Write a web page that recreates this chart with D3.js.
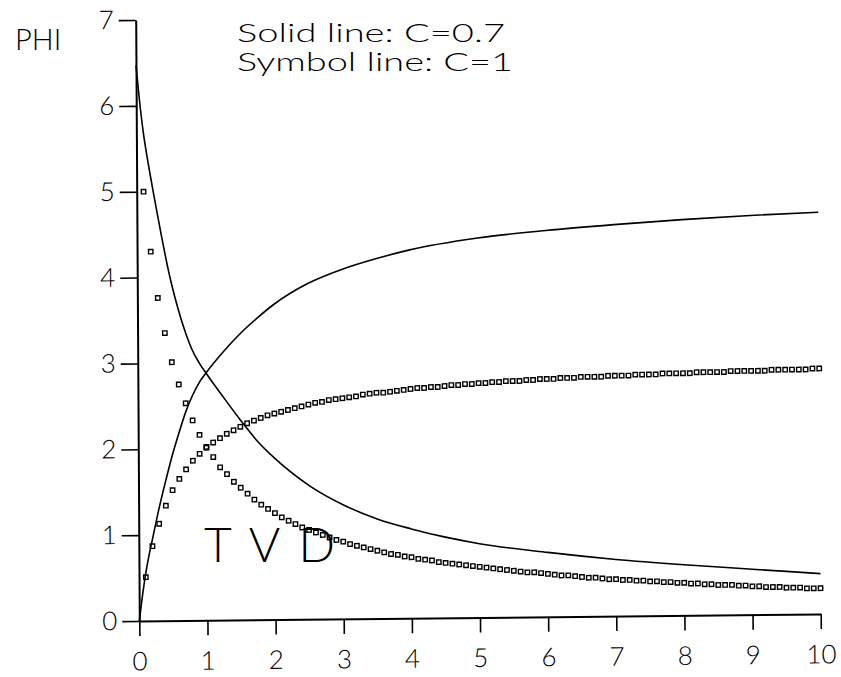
<!DOCTYPE html>
<html>
<head>
<meta charset="utf-8">
<script src="https://cdn.jsdelivr.net/npm/d3@7"></script>
<style>
  html, body { margin: 0; padding: 0; background: #fff; }
  svg { display: block; }
  text { font-family: Lato, "Liberation Sans", Arial, sans-serif; font-weight: 300; fill: #000; }
</style>
</head>
<body>
<svg id="chart" width="841" height="677"></svg>
<script>
// Axis ticks
const xTicks = [0, 1, 2, 3, 4, 5, 6, 7, 8, 9, 10];
const yTicks = [0, 1, 2, 3, 4, 5, 6, 7];

// Solid lines, C = 0.7
const riseR = [0, 0.05, 0.1, 0.15, 0.2, 0.3, 0.4, 0.5, 0.6, 0.7, 0.8, 0.9, 1.0,
  1.25, 1.5, 1.75, 2.0, 2.5, 3.0, 3.5, 4.0, 5.0, 6.0, 7.0, 8.0, 9.0, 10.0];
const riseC07 = [0, 0.30, 0.56, 0.77, 0.95, 1.31, 1.63, 1.93, 2.19, 2.43, 2.62, 2.77, 2.88,
  3.12, 3.33, 3.51, 3.67, 3.91, 4.07, 4.19, 4.29, 4.42, 4.50, 4.56, 4.61, 4.65, 4.68];

const fallR = [0, 0.05, 0.1, 0.15, 0.2, 0.25, 0.3, 0.35, 0.4, 0.45, 0.5, 0.6, 0.7, 0.8, 0.9, 1.0,
  1.25, 1.5, 1.75, 2.0, 2.5, 3.0, 3.5, 4.0, 4.5, 5.0, 6.0, 7.0, 8.0, 9.0, 10.0];
const fallC07 = [6.47, 6.05, 5.70, 5.43, 5.19, 4.96, 4.74, 4.52, 4.31, 4.11, 3.93, 3.62, 3.36, 3.15, 3.00, 2.88,
  2.60, 2.33, 2.08, 1.88, 1.56, 1.33, 1.16, 1.04, 0.94, 0.86, 0.75, 0.66, 0.59, 0.53, 0.47];

// Symbol lines, C = 1
const symR = [
  0.1, 0.2, 0.3, 0.4, 0.5, 0.6, 0.7, 0.8, 0.9, 1.0,
  1.1, 1.2, 1.3, 1.4, 1.5, 1.6, 1.7, 1.8, 1.9, 2.0,
  2.1, 2.2, 2.3, 2.4, 2.5, 2.6, 2.7, 2.8, 2.9, 3.0,
  3.1, 3.2, 3.3, 3.4, 3.5, 3.6, 3.7, 3.8, 3.9, 4.0,
  4.1, 4.2, 4.3, 4.4, 4.5, 4.6, 4.7, 4.8, 4.9, 5.0,
  5.1, 5.2, 5.3, 5.4, 5.5, 5.6, 5.7, 5.8, 5.9, 6.0,
  6.1, 6.2, 6.3, 6.4, 6.5, 6.6, 6.7, 6.8, 6.9, 7.0,
  7.1, 7.2, 7.3, 7.4, 7.5, 7.6, 7.7, 7.8, 7.9, 8.0,
  8.1, 8.2, 8.3, 8.4, 8.5, 8.6, 8.7, 8.8, 8.9, 9.0,
  9.1, 9.2, 9.3, 9.4, 9.5, 9.6, 9.7, 9.8, 9.9, 10.0];
const riseC1 = [
  0.51, 0.87, 1.13, 1.34, 1.52, 1.65, 1.76, 1.86, 1.94, 2.01,
  2.07, 2.12, 2.17, 2.21, 2.25, 2.29, 2.32, 2.35, 2.38, 2.40,
  2.42, 2.44, 2.46, 2.48, 2.50, 2.52, 2.53, 2.55, 2.56, 2.57,
  2.58, 2.59, 2.61, 2.62, 2.63, 2.63, 2.64, 2.65, 2.66, 2.67,
  2.68, 2.68, 2.69, 2.69, 2.70, 2.71, 2.71, 2.72, 2.72, 2.73,
  2.73, 2.74, 2.74, 2.75, 2.75, 2.75, 2.76, 2.76, 2.77, 2.77,
  2.77, 2.78, 2.78, 2.78, 2.79, 2.79, 2.79, 2.79, 2.80, 2.80,
  2.80, 2.80, 2.81, 2.81, 2.81, 2.81, 2.82, 2.82, 2.82, 2.82,
  2.82, 2.83, 2.83, 2.83, 2.83, 2.83, 2.84, 2.84, 2.84, 2.84,
  2.84, 2.84, 2.85, 2.85, 2.85, 2.85, 2.85, 2.85, 2.86, 2.86];
const fallC1 = [
  5.00, 4.30, 3.76, 3.35, 3.01, 2.75, 2.53, 2.33, 2.16, 2.02,
  1.90, 1.78, 1.70, 1.61, 1.54, 1.47, 1.40, 1.34, 1.29, 1.24,
  1.19, 1.15, 1.11, 1.07, 1.04, 1.01, 0.98, 0.95, 0.92, 0.90,
  0.87, 0.85, 0.83, 0.81, 0.79, 0.77, 0.75, 0.74, 0.72, 0.71,
  0.69, 0.68, 0.67, 0.65, 0.64, 0.63, 0.62, 0.61, 0.60, 0.59,
  0.58, 0.57, 0.56, 0.55, 0.54, 0.53, 0.52, 0.52, 0.51, 0.50,
  0.49, 0.48, 0.48, 0.47, 0.46, 0.45, 0.45, 0.44, 0.43, 0.43,
  0.42, 0.42, 0.41, 0.41, 0.40, 0.40, 0.39, 0.39, 0.38, 0.38,
  0.37, 0.37, 0.36, 0.36, 0.35, 0.35, 0.35, 0.34, 0.34, 0.33,
  0.33, 0.32, 0.32, 0.32, 0.31, 0.31, 0.31, 0.30, 0.30, 0.30];

const svg = d3.select("#chart");
const W = 681.4, H = 601;

const x = d3.scaleLinear().domain([0, 10]).range([0, W]);
const y = d3.scaleLinear().domain([0, 7]).range([0, -H]);

// Plot frame, origin at the lower-left corner of the axes (slightly skewed)
const plot = svg.append("g")
  .attr("transform", "matrix(1,-0.01027,0.006,1,139.3,621)");

const xAxis = plot.append("g")
  .call(d3.axisBottom(x).tickValues(xTicks).tickFormat(d3.format("d"))
    .tickSize(15).tickSizeOuter(0).tickPadding(16));
const yAxis = plot.append("g")
  .call(d3.axisLeft(y).tickValues(yTicks).tickFormat(d3.format("d"))
    .tickSize(17).tickSizeOuter(0).tickPadding(5));

[xAxis, yAxis].forEach(g => {
  g.select(".domain").attr("stroke", "#000").attr("stroke-width", 2);
  g.selectAll(".tick line").attr("stroke", "#000").attr("stroke-width", 1.6);
  g.selectAll(".tick text")
    .attr("font-family", "Lato, 'Liberation Sans', Arial, sans-serif")
    .attr("font-weight", 300)
    .attr("font-size", 26).attr("fill", "#000");
});

const line = d3.line()
  .x(d => x(d[0]))
  .y(d => y(d[1]))
  .curve(d3.curveMonotoneX);

// Solid curves
plot.append("path")
  .datum(riseR.map((r, i) => [r, riseC07[i]]))
  .attr("d", line)
  .attr("fill", "none").attr("stroke", "#000").attr("stroke-width", 1.6);
plot.append("path")
  .datum(fallR.map((r, i) => [r, fallC07[i]]))
  .attr("d", line)
  .attr("fill", "none").attr("stroke", "#000").attr("stroke-width", 1.6);

// Symbol curves: small open squares
const s = 4.4;
function symbols(vals) {
  plot.append("g").selectAll("rect")
    .data(symR.map((r, i) => [r, vals[i]]))
    .join("rect")
    .attr("x", d => x(d[0]) - s / 2)
    .attr("y", d => y(d[1]) - s / 2)
    .attr("width", s).attr("height", s)
    .attr("fill", "none").attr("stroke", "#000").attr("stroke-width", 1.4);
}
symbols(riseC1);
symbols(fallC1);

// Labels
svg.append("text").attr("x", 15).attr("y", 50)
  .attr("font-size", 29).text("PHI");

svg.append("text").attr("x", 237).attr("y", 42)
  .attr("font-size", 25.5)
  .attr("textLength", 268).attr("lengthAdjust", "spacingAndGlyphs")
  .text("Solid line: C=0.7");
svg.append("text").attr("x", 237).attr("y", 71)
  .attr("font-size", 25.5)
  .attr("textLength", 276).attr("lengthAdjust", "spacingAndGlyphs")
  .text("Symbol line: C=1");

svg.append("text").attr("x", 204).attr("y", 562)
  .attr("font-size", 48)
  .attr("textLength", 131).attr("lengthAdjust", "spacing")
  .text("T V D");
</script>
</body>
</html>
